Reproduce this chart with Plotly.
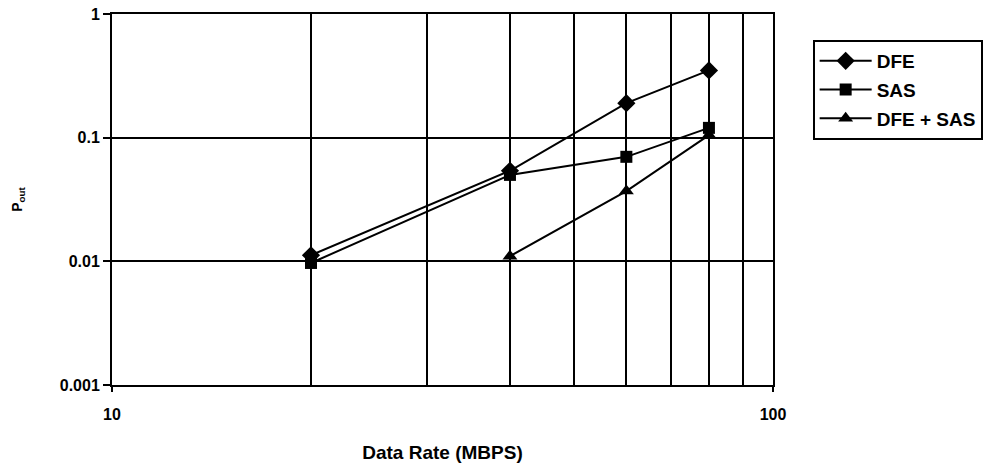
import plotly.graph_objects as go

data_rate = [20, 40, 60, 80]
dfe = [0.0112, 0.054, 0.19, 0.35]
sas_rate = [20, 40, 60, 80]
sas = [0.0097, 0.050, 0.070, 0.12]
dfe_sas_rate = [40, 60, 80]
dfe_sas = [0.0110, 0.037, 0.105]

x_ticks = [10, 100]
x_ticktext = ["10", "100"]
x_minor = [20, 30, 40, 50, 60, 70, 80, 90]
y_ticks = [0.001, 0.01, 0.1, 1]
y_ticktext = ["0.001", "0.01", "0.1", "1"]

FAM = "Liberation Sans, Arial, sans-serif"

fig = go.Figure()
fig.add_trace(go.Scatter(x=data_rate, y=dfe, name="<b>DFE</b>", mode="lines+markers",
                         legendgroup="a",
                         line=dict(color="black", width=2),
                         marker=dict(symbol="diamond", size=14, color="black")))
fig.add_trace(go.Scatter(x=sas_rate, y=sas, name="<b>SAS</b>", mode="lines+markers",
                         legendgroup="b",
                         line=dict(color="black", width=2),
                         marker=dict(symbol="square", size=12, color="black")))
fig.add_trace(go.Scatter(x=dfe_sas_rate, y=dfe_sas, name="<b>DFE + SAS</b>", mode="lines+markers",
                         legendgroup="c",
                         line=dict(color="black", width=2),
                         marker=dict(symbol="triangle-up", size=13, color="black")))

fig.update_layout(
    width=984, height=463,
    margin=dict(l=112, r=211, t=14, b=78, autoexpand=False),
    paper_bgcolor="white", plot_bgcolor="white",
    font=dict(family=FAM, size=16, color="black"),
    showlegend=True,
    legend=dict(x=1.06, y=0.93, xanchor="left", yanchor="top",
                bordercolor="black", borderwidth=2, bgcolor="white",
                font=dict(size=19, family=FAM, color="black"),
                tracegroupgap=1, itemwidth=52),
)
fig.update_xaxes(
    type="log", range=[1, 2], automargin=False,
    tickvals=x_ticks, ticktext=["<b>%s</b>" % t for t in x_ticktext],
    tickfont=dict(size=16, family=FAM, color="black"),
    showgrid=False, showline=True, linecolor="black", linewidth=2, mirror=True,
    ticks="outside", ticklen=5, tickwidth=2, tickcolor="black",
    ticklabelstandoff=9,
    minor=dict(tickvals=x_minor, showgrid=True, gridcolor="black", gridwidth=2, ticks=""),
    title=dict(text="<b>Data Rate (MBPS)</b>", standoff=33, font=dict(size=19, family=FAM)),
    zeroline=False,
)
fig.update_yaxes(
    type="log", range=[-3, 0], automargin=False,
    tickvals=y_ticks, ticktext=["<b>%s</b>" % t for t in y_ticktext],
    tickfont=dict(size=16, family=FAM, color="black"),
    showgrid=True, gridcolor="black", gridwidth=2,
    showline=True, linecolor="black", linewidth=2, mirror=True,
    ticks="outside", ticklen=7, tickwidth=2, tickcolor="black",
    title=dict(text="<b>P<sub>out</sub></b>", standoff=34, font=dict(size=14, family=FAM)),
    zeroline=False,
)

fig.write_html("out.html", config={"displayModeBar": False},
               post_script="document.body.style.margin='0';")
